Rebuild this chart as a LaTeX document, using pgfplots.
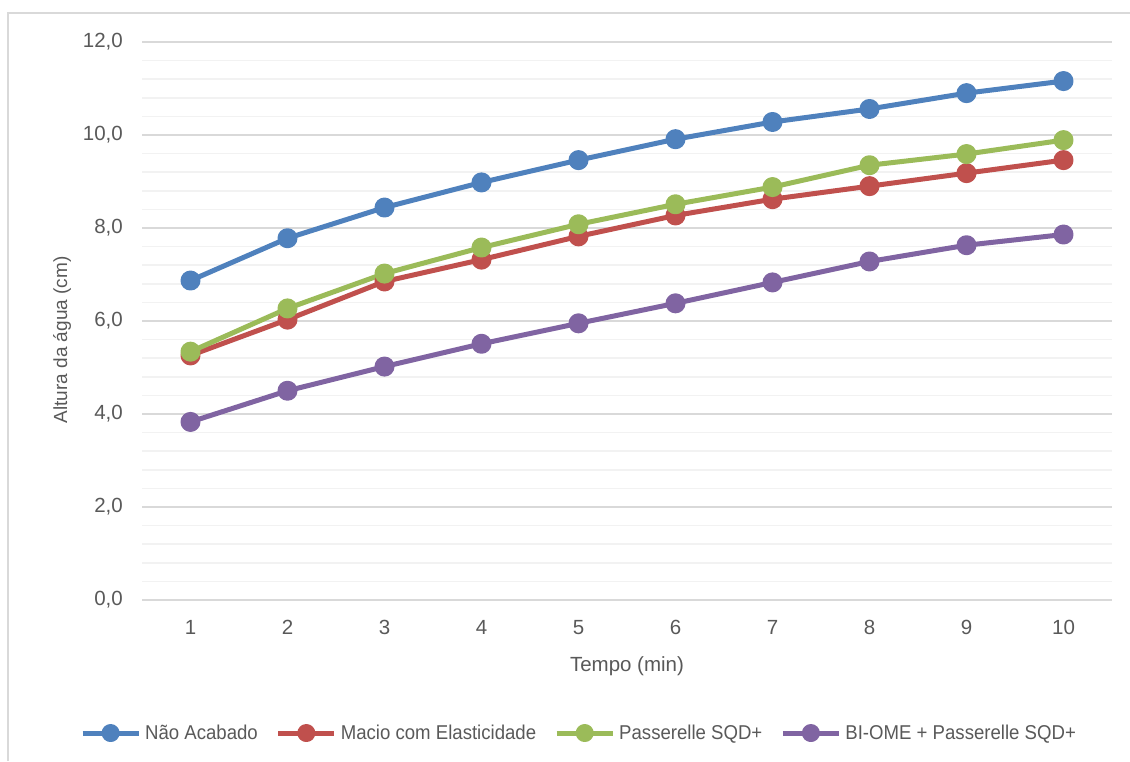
\documentclass[border=0pt]{standalone}
\usepackage{pgfplots}
\pgfplotsset{compat=1.18}
\usepackage{fontspec}
\setmainfont{Liberation Sans}
\newfontfamily\legfont{Liberation Sans}[FakeStretch=0.93]
\definecolor{cblue}{HTML}{4F81BD}
\definecolor{cred}{HTML}{C0504D}
\definecolor{cgreen}{HTML}{9BBB59}
\definecolor{cpurple}{HTML}{8064A2}
\definecolor{textgray}{HTML}{595959}
\definecolor{majgrid}{HTML}{D9D9D9}
\definecolor{mingrid}{HTML}{F2F2F2}
\definecolor{framec}{HTML}{D9D9D9}
\begin{document}
\begin{tikzpicture}
\path[use as bounding box] (0,0) rectangle (1130pt,761pt);
\draw[color=framec, line width=2pt] (7.5pt,0) -- (7.5pt,748pt) -- (1130pt,748pt);
\begin{axis}[
  at={(142pt,161pt)}, anchor=south west,
  scale only axis, width=970pt, height=558pt,
  xmin=0.5, xmax=10.5, ymin=0, ymax=12,
  xtick={1,2,3,4,5,6,7,8,9,10},
  ytick={0,2,4,6,8,10,12},
  minor y tick num=4,
  ymajorgrids, yminorgrids,
  major grid style={color=majgrid, line width=1.6pt},
  minor grid style={color=mingrid, line width=1.6pt},
  axis line style={draw=none},
  major tick length=0pt, minor tick length=0pt,
  tick style={draw=none},
  clip=false,
  /pgf/number format/assume math mode=true,
  every tick label/.append style={font=\fontsize{20.5}{24}\selectfont, text=textgray},
  yticklabel style={inner sep=0pt, anchor=east, xshift=-19pt,
    /pgf/number format/fixed, /pgf/number format/fixed zerofill,
    /pgf/number format/precision=1, /pgf/number format/use comma},
  xticklabel style={inner sep=0pt, anchor=north, yshift=-20pt},
  xlabel={Tempo (min)},
  ylabel={Altura da água (cm)},
  every axis x label/.style={at={(axis description cs:0.5,0)}, anchor=north, yshift=-56pt, inner sep=0pt, font=\fontsize{20.5}{24}\selectfont, text=textgray},
  every axis y label/.style={at={(axis description cs:0,0.466)}, xshift=-80pt, rotate=90, anchor=center, inner sep=0pt, font=\fontsize{19}{24}\selectfont, text=textgray},
  every axis plot/.append style={line width=5pt, line join=round, mark=*, mark size=7.5pt, mark options={draw=none}},
  legend columns=4,
  legend cell align=left,
  legend style={at={(0.4495,-0.2384)}, anchor=center, draw=none, fill=none,
    font=\legfont\fontsize{20}{24}\selectfont, text=textgray,
    nodes={inner sep=0pt},
    /tikz/every odd column/.append style={column sep=4pt},
    /tikz/every even column/.append style={column sep=18pt}},
  legend image code/.code={\draw[mark repeat=2, mark phase=2, mark size=6.5pt] plot coordinates {(0pt,0pt) (28pt,0pt) (56pt,0pt)};},
]
\addplot[color=cblue, mark options={fill=cblue, draw=none}] coordinates {
(1,6.87) (2,7.78) (3,8.44) (4,8.98) (5,9.46) (6,9.91) (7,10.28) (8,10.56) (9,10.90) (10,11.16)};
\addlegendentry{Não Acabado}
\addplot[color=cred, mark options={fill=cred, draw=none}] coordinates {
(1,5.26) (2,6.03) (3,6.85) (4,7.32) (5,7.82) (6,8.27) (7,8.62) (8,8.90) (9,9.18) (10,9.46)};
\addlegendentry{Macio com Elasticidade}
\addplot[color=cgreen, mark options={fill=cgreen, draw=none}] coordinates {
(1,5.34) (2,6.27) (3,7.02) (4,7.58) (5,8.08) (6,8.51) (7,8.88) (8,9.35) (9,9.59) (10,9.89)};
\addlegendentry{Passerelle SQD+}
\addplot[color=cpurple, mark options={fill=cpurple, draw=none}] coordinates {
(1,3.83) (2,4.50) (3,5.02) (4,5.51) (5,5.95) (6,6.38) (7,6.83) (8,7.28) (9,7.63) (10,7.86)};
\addlegendentry{BI-OME + Passerelle SQD+}
\end{axis}
\end{tikzpicture}
\end{document}
